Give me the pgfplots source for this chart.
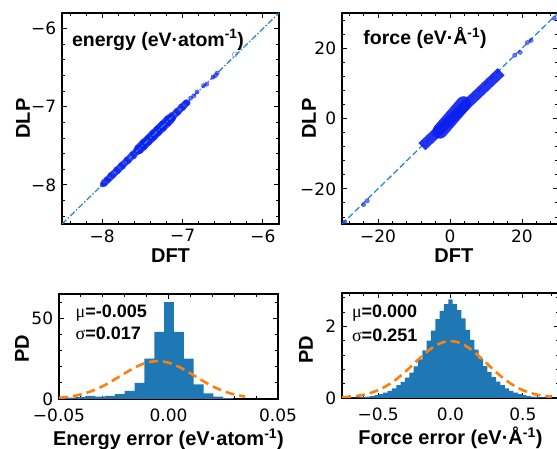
\documentclass[border=0pt]{standalone}
\usepackage{fontspec}
\setmainfont{DejaVu Sans}
\newfontfamily\lab{Liberation Sans}
\newfontfamily\gr{Liberation Serif}
\usepackage{pgfplots}
\pgfplotsset{compat=1.18}
\definecolor{hblue}{HTML}{1F77B4}
\definecolor{horange}{HTML}{FF7F0E}
\definecolor{dline}{HTML}{2A8BCC}
\definecolor{sblue}{HTML}{0A1EF0}
\pgfplotsset{
  myax/.style={
    scale only axis, clip=true,
    scaled ticks=false,
    axis line style={line width=1.2pt},
    major tick style={black, line width=0.9pt},
    minor tick style={black, line width=0.9pt},
    major tick length=5pt, minor tick length=3pt,
    tick align=inside,
    tick label style={font=\fontsize{17}{17}\selectfont, inner sep=1pt},
    yticklabel style={xshift=-4.7pt},
    label style={font=\lab\bfseries\fontsize{20}{20}\selectfont, inner sep=1pt},
  },
}
\begin{document}
\begin{tikzpicture}
\useasboundingbox (0,0) rectangle (557pt,449pt);
\clip (0,0) rectangle (557pt,449pt);

% ---------- energy parity ----------
\begin{axis}[myax, at={(62pt,225pt)}, anchor=south west, width=217pt, height=211pt,
  xmin=-8.5, xmax=-5.8, ymin=-8.5, ymax=-5.8,
  xtick={-8,-7,-6}, xticklabels={−8,−7,−6},
  ytick={-8,-7,-6}, yticklabels={−8,−7,−6},
  xticklabel style={yshift=-4.2pt},
  minor xtick={-8.4,-8.2,...,-5.9}, minor ytick={-8.4,-8.2,...,-5.9},
  xlabel={DFT}, ylabel={DLP},
  xlabel style={at={(axis description cs:0.5,-0.152)}, anchor=center},
  ylabel style={at={(axis description cs:-0.18,0.5)}, anchor=center},
]
\addplot[sblue, opacity=0.85, line width=7pt, line cap=round] coordinates {(-7.98,-7.98) (-6.95,-6.95)};
\addplot[sblue, opacity=0.85, line width=10pt, line cap=round] coordinates {(-7.55,-7.55) (-7.15,-7.15)};
\addplot[only marks, mark=*, mark size=2.2pt, sblue, opacity=0.6] coordinates {
(-8.00,-8.00) (-7.97,-7.99) (-7.95,-7.93) (-7.92,-7.94) (-7.90,-7.87) (-7.86,-7.88)
(-7.83,-7.80) (-7.80,-7.83) (-7.77,-7.74) (-7.74,-7.77) (-7.70,-7.67) (-7.67,-7.70)
(-7.63,-7.60) (-7.60,-7.64) (-7.56,-7.52) (-7.53,-7.57) (-7.50,-7.45) (-7.47,-7.52)
(-7.44,-7.40) (-7.41,-7.46) (-7.38,-7.33) (-7.35,-7.40) (-7.32,-7.27) (-7.29,-7.34)
(-7.26,-7.21) (-7.23,-7.28) (-7.20,-7.15) (-7.17,-7.22) (-7.14,-7.10) (-7.11,-7.15)
(-7.08,-7.05) (-7.05,-7.08) (-7.02,-6.99) (-6.99,-7.02) (-6.96,-6.94) (-6.93,-6.95)
(-6.90,-6.89) (-6.86,-6.86) (-6.82,-6.81) (-6.74,-6.73) (-6.70,-6.71)
(-6.62,-6.62) (-6.59,-6.60) (-6.57,-6.57)};
\addplot[only marks, mark=o, mark size=2.5pt, sblue, opacity=0.6] coordinates {(-6.35,-6.33)};
\addplot[dline, line width=1.3pt, dash pattern=on 6pt off 2pt on 1.5pt off 2pt] coordinates {(-8.5,-8.5) (-5.8,-5.8)};
\node[anchor=west, font=\lab\bfseries\fontsize{19.5}{20}\selectfont] at (axis description cs:0.03,0.872) {energy (eV·atom\textsuperscript{-1})};
\end{axis}

% ---------- force parity ----------
\begin{axis}[myax, at={(342pt,225pt)}, anchor=south west, width=216pt, height=211pt,
  xmin=-30, xmax=30, ymin=-30, ymax=30,
  xtick={-20,0,20}, xticklabels={−20,0,20},
  ytick={-20,0,20}, yticklabels={−20,0,20},
  xticklabel style={yshift=-4.2pt},
  minor xtick={-28,-24,...,28}, minor ytick={-28,-24,...,28},
  xlabel={DFT}, ylabel={DLP},
  xlabel style={at={(axis description cs:0.518,-0.148)}, anchor=center},
  ylabel style={at={(axis description cs:-0.153,0.5)}, anchor=center},
]
\addplot[dline, line width=1.3pt, dash pattern=on 6pt off 3pt] coordinates {(-30,-30) (30,30)};
\addplot[sblue, opacity=0.9, line width=10pt] coordinates {(-7.8,-8.0) (14.2,13.3)};
\addplot[sblue, opacity=0.9, line width=15pt, line cap=round] coordinates {(-2.8,-3.6) (3.8,4.2)};
\addplot[only marks, mark=*, mark size=2.2pt, sblue, opacity=0.6] coordinates {
(18,18) (19.5,18.8) (21.5,21.6) (22.5,22.2) (-24,-24.5) (-23,-23.4) (-29.2,-29.5) (29,28.5)};
\node[anchor=west, font=\lab\bfseries\fontsize{19.5}{20}\selectfont] at (axis description cs:0.083,0.88) {force (eV·Å\textsuperscript{-1})};
\end{axis}

% ---------- energy error histogram ----------
\begin{axis}[myax, at={(59pt,50pt)}, anchor=south west, width=219pt, height=105pt,
  xmin=-0.05, xmax=0.05, ymin=0, ymax=65,
  xtick={-0.05,0,0.05}, xticklabels={−0.05,0.00,0.05},
  ytick={0,50}, yticklabels={0,50},
  xticklabel style={yshift=-8.7pt},
  minor xtick={-0.04,-0.03,-0.02,-0.01,0.01,0.02,0.03,0.04}, minor ytick={10,20,30,40,60},
  xlabel={Energy error (eV·atom\textsuperscript{-1})}, ylabel={PD},
  xlabel style={at={(axis description cs:0.5,-0.385)}, anchor=center},
  ylabel style={at={(axis description cs:-0.169,0.476)}, anchor=center},
]
\addplot[const plot mark left, fill=hblue, draw=none] coordinates {
(-0.0515,0.5) (-0.047,0.8) (-0.0425,1.2) (-0.038,2.0) (-0.0335,1.5) (-0.029,2.0)
(-0.0245,3.0) (-0.020,5.0) (-0.0155,10) (-0.011,25) (-0.0065,41.5) (-0.002,60)
(0.0025,41.5) (0.007,25) (0.0115,9) (0.016,3.5) (0.0205,1.5) (0.025,0.5) (0.0295,0)} \closedcycle;
\addplot[horange, line width=2.6pt, dash pattern=on 9pt off 5pt, smooth] coordinates {
(-0.05,0.706) (-0.045,1.474) (-0.04,2.82) (-0.035,4.95) (-0.03,7.96) (-0.025,11.75)
(-0.02,15.90) (-0.015,19.74) (-0.01,22.48) (-0.005,23.47) (0,22.48) (0.005,19.74)
(0.01,15.90) (0.015,11.75) (0.02,7.96) (0.025,4.95) (0.03,2.82) (0.035,1.474)};
\node[anchor=west, font=\lab\bfseries\fontsize{18}{20}\selectfont] at (axis description cs:0.06,0.82) {{\gr\mdseries μ}=-0.005};
\node[anchor=west, font=\lab\bfseries\fontsize{18}{20}\selectfont] at (axis description cs:0.06,0.63) {{\gr\mdseries σ}=0.017};
\end{axis}

% ---------- force error histogram ----------
\begin{axis}[myax, at={(342pt,51pt)}, anchor=south west, width=217pt, height=105pt,
  xmin=-0.75, xmax=0.75, ymin=0, ymax=2.93,
  xtick={-0.5,0,0.5}, xticklabels={−0.5,0.0,0.5},
  ytick={0,2}, yticklabels={0,2},
  xticklabel style={yshift=-8.7pt},
  minor xtick={-0.7,-0.6,-0.4,-0.3,-0.2,-0.1,0.1,0.2,0.3,0.4,0.6,0.7},
  minor ytick={0.4,0.8,1.2,1.6,2.4,2.8},
  xlabel={Force error (eV·Å\textsuperscript{-1})}, ylabel={PD},
  xlabel style={at={(axis description cs:0.5,-0.38)}, anchor=center},
  ylabel style={at={(axis description cs:-0.166,0.457)}, anchor=center},
]
\addplot[const plot mark left, fill=hblue, draw=none] coordinates {
(-0.765,0.004) (-0.735,0.006) (-0.705,0.009) (-0.675,0.013) (-0.645,0.02) (-0.615,0.028)
(-0.585,0.04) (-0.555,0.055) (-0.525,0.08) (-0.495,0.11) (-0.465,0.15) (-0.435,0.2)
(-0.405,0.27) (-0.375,0.36) (-0.345,0.45) (-0.315,0.57) (-0.285,0.71) (-0.255,0.88)
(-0.225,1.08) (-0.195,1.33) (-0.165,1.6) (-0.135,1.88) (-0.105,2.2) (-0.075,2.43)
(-0.045,2.62) (-0.015,2.75) (0.015,2.62) (0.045,2.45) (0.075,2.22) (0.105,1.9)
(0.135,1.62) (0.165,1.35) (0.195,1.1) (0.225,0.89) (0.255,0.72) (0.285,0.58)
(0.315,0.46) (0.345,0.36) (0.375,0.27) (0.405,0.2) (0.435,0.15) (0.465,0.11)
(0.495,0.08) (0.525,0.055) (0.555,0.04) (0.585,0.028) (0.615,0.02) (0.645,0.013)
(0.675,0.009) (0.705,0.006) (0.735,0.004) (0.765,0)} \closedcycle;
\addplot[horange, line width=2.6pt, dash pattern=on 9pt off 5pt, smooth] coordinates {
(-0.75,0.0183) (-0.7,0.0326) (-0.65,0.0556) (-0.6,0.0913) (-0.55,0.144) (-0.5,0.2186)
(-0.45,0.319) (-0.4,0.446) (-0.35,0.601) (-0.3,0.778) (-0.25,0.968) (-0.2,1.157)
(-0.15,1.330) (-0.1,1.468) (-0.05,1.558) (0,1.589) (0.05,1.558) (0.1,1.468)
(0.15,1.330) (0.2,1.157) (0.25,0.968) (0.3,0.778) (0.35,0.601) (0.4,0.446)
(0.45,0.319) (0.5,0.2186) (0.55,0.144) (0.6,0.0913) (0.65,0.0556) (0.7,0.0326)};
\node[anchor=west, font=\lab\bfseries\fontsize{18}{20}\selectfont] at (axis description cs:0.03,0.81) {{\gr\mdseries μ}=0.000};
\node[anchor=west, font=\lab\bfseries\fontsize{18}{20}\selectfont] at (axis description cs:0.03,0.60) {{\gr\mdseries σ}=0.251};
\end{axis}
\end{tikzpicture}
\end{document}
